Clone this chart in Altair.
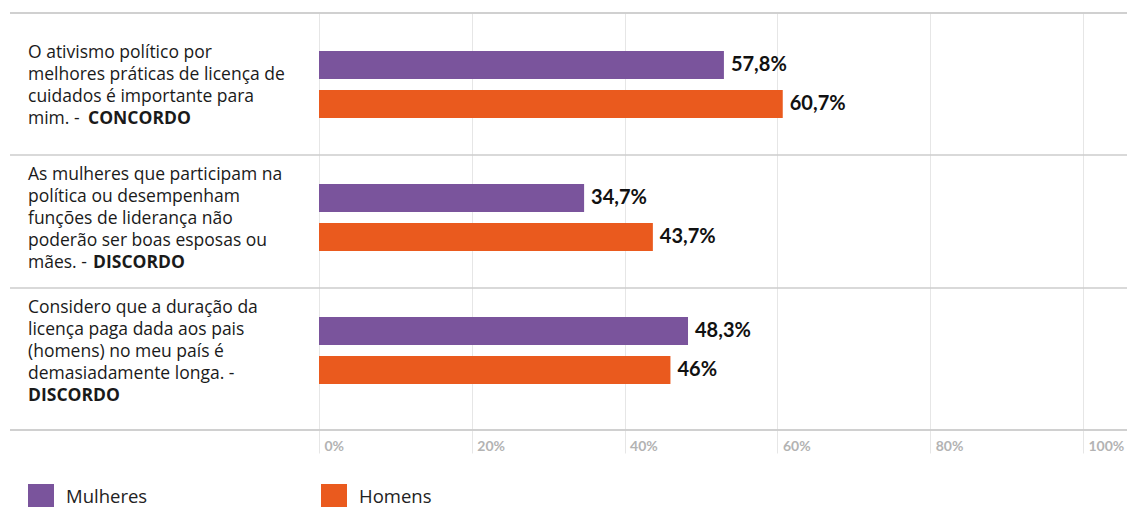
import altair as alt
import pandas as pd

# ---- data ----
row_keys = ["q1", "q2", "q3"]
question_lines = [
    ["O ativismo político por", "melhores práticas de licença de",
     "cuidados é importante para", "mim. - "],
    ["As mulheres que participam na", "política ou desempenham",
     "funções de liderança não", "poderão ser boas esposas ou", "mães. - "],
    ["Considero que a duração da", "licença paga dada aos pais",
     "(homens) no meu país é", "demasiadamente longa.  -"],
]
question_bold = ["CONCORDO", "DISCORDO", "DISCORDO"]
bold_inline = [True, True, False]

genders = ["Mulheres", "Homens"]
mulheres_values = [53.0, 34.7, 48.3]       # bar lengths as drawn
homens_values = [60.7, 43.7, 46.0]
mulheres_labels = ["57,8%", "34,7%", "48,3%"]  # printed labels
homens_labels = ["60,7%", "43,7%", "46%"]
x_ticks = [0, 20, 40, 60, 80, 100]
colors = ["#7a549c", "#ea5a1e"]

# ---- tables ----
bars = pd.DataFrame(
    [{"row": r, "gender": "Mulheres", "value": v, "label": l}
     for r, v, l in zip(row_keys, mulheres_values, mulheres_labels)]
    + [{"row": r, "gender": "Homens", "value": v, "label": l}
       for r, v, l in zip(row_keys, homens_values, homens_labels)]
)

line_rows, bold_rows = [], []
for r, lines, bold, inline in zip(row_keys, question_lines, question_bold, bold_inline):
    n = len(lines) + (0 if inline else 1)
    for i, t in enumerate(lines):
        line_rows.append({"row": r, "text": t, "lpos": i - (n - 1) / 2})
    bold_rows.append({"row": r, "text": bold, "lpos": (n - 1) / 2})
lines_df = pd.DataFrame(line_rows)
bold_df = pd.DataFrame(bold_rows)
seps = pd.DataFrame({"row": row_keys[1:]})

W, H = 764, 417
FONT = "Open Sans"
NUMFONT = "Lato"
LH = 22
TEXT_CENTER = 64   # line-block centre within a row band

yscale = alt.Scale(domain=row_keys, paddingInner=0, paddingOuter=0.068)
y_enc = alt.Y("row:N", scale=yscale, axis=None)

x_axis = alt.Axis(
    values=x_ticks, labelExpr="datum.value + '%'", grid=True,
    gridColor="#e6e6e6", gridWidth=1, tickSize=23, tickColor="#e6e6e6",
    tickWidth=1, domain=False, labelAlign="left", labelOffset=5,
    labelPadding=-7, labelBaseline="middle", labelFont=NUMFONT,
    labelFontSize=14, labelFontWeight="bold", labelColor="#b3b3b3",
    labelFlush=False, title=None,
)
xscale = alt.Scale(domain=[0, 100], nice=False, zero=True)
off_scale = alt.Scale(type="band", domain=genders, paddingInner=0.282,
                      paddingOuter=0.846, align=0.44)

base_bars = alt.Chart(bars)

bar_layer = base_bars.mark_bar().encode(
    x=alt.X("value:Q", scale=xscale, axis=x_axis),
    y=y_enc,
    yOffset=alt.YOffset("gender:N", sort=genders, scale=off_scale),
    color=alt.Color("gender:N", sort=genders,
                    scale=alt.Scale(domain=genders, range=colors),
                    legend=alt.Legend(
                        title=None, orient="none", direction="horizontal",
                        legendX=-291, legendY=471, padding=0,
                        symbolType="square", symbolSize=676,
                        symbolStrokeWidth=0, symbolOpacity=1,
                        labelFont=FONT, labelFontSize=18.5, labelColor="#222222",
                        labelOffset=12, columnPadding=173, labelLimit=300)),
)

value_layer = base_bars.mark_text(
    align="left", baseline="middle", dx=7, font=NUMFONT, fontSize=20,
    fontWeight="bold", color="#111111"
).encode(
    x=alt.X("value:Q", scale=xscale),
    y=y_enc,
    yOffset=alt.YOffset("gender:N", sort=genders, scale=off_scale),
    text="label:N",
)

rule_style = dict(color="#cccccc", strokeWidth=1.5)
sep_mid = alt.Chart(seps).mark_rule(**rule_style).encode(
    y=alt.Y("row:N", scale=yscale, axis=None, bandPosition=0),
    x=alt.value(-309), x2=alt.value(808),
)
sep_top = alt.Chart(seps).mark_rule(**rule_style).encode(
    y=alt.value(0), x=alt.value(-309), x2=alt.value(808),
)
sep_bot = alt.Chart(seps).mark_rule(**rule_style).encode(
    y=alt.value(H), x=alt.value(-309), x2=alt.value(808),
)

text_kw = dict(align="left", baseline="middle", font=FONT, fontSize=17.5,
               color="#1a1a1a")
ty = alt.Y("row:N", scale=yscale, axis=None)
lpos_enc = alt.YOffset("lpos:Q", scale=alt.Scale(
    domain=[-2, 2], range=[TEXT_CENTER - 2 * LH, TEXT_CENTER + 2 * LH]))
normal_layer = alt.Chart(lines_df).mark_text(**text_kw).encode(
    x=alt.value(-291), y=ty, yOffset=lpos_enc, text="text:N")

bold_dx = [60, 65, 0]
bold_layers = []
for r, dx in zip(row_keys, bold_dx):
    bold_layers.append(
        alt.Chart(bold_df).transform_filter(alt.datum.row == r)
        .mark_text(fontWeight="bold", dx=dx, **text_kw)
        .encode(x=alt.value(-291), y=ty, yOffset=lpos_enc, text="text:N")
    )

chart = alt.layer(
    sep_mid, sep_top, sep_bot, bar_layer, value_layer, normal_layer, *bold_layers
).properties(
    width=W, height=H,
    padding={"left": 311, "top": 5, "right": 44, "bottom": 77},
    autosize=alt.AutoSizeParams(type="none"),
).configure_view(stroke=None).resolve_scale(yOffset="independent")

chart.save("out.html", embed_options={"renderer": "svg", "actions": False})
